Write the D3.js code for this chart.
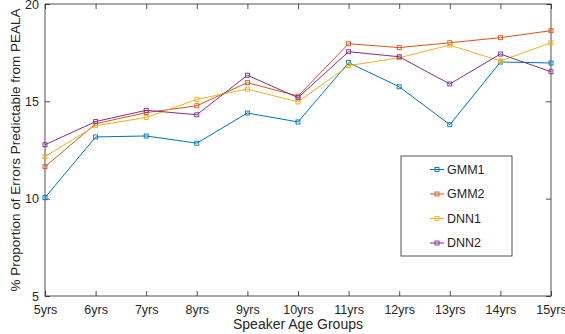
<!DOCTYPE html>
<html><head><meta charset="utf-8">
<script src="https://cdn.jsdelivr.net/npm/d3@7"></script>
<style>body{margin:0;background:#fff}svg{display:block}text{font-family:"Liberation Sans",Arial,sans-serif;fill:#262626}</style>
</head><body><svg id="c" width="565" height="334"></svg>
<script>
const categories = ["5yrs","6yrs","7yrs","8yrs","9yrs","10yrs","11yrs","12yrs","13yrs","14yrs","15yrs"];
const gmm1 = [10.05,13.17,13.22,12.85,14.4,13.94,16.99,15.75,13.8,17.02,16.97];
const gmm2 = [11.64,13.85,14.42,14.77,15.96,15.27,17.96,17.76,18.01,18.27,18.63];
const dnn1 = [12.16,13.75,14.17,15.1,15.63,14.97,16.83,17.24,17.89,17.07,18.01];
const dnn2 = [12.77,13.96,14.54,14.31,16.34,15.19,17.55,17.29,15.89,17.43,16.52];
const seriesNames = ["GMM1","GMM2","DNN1","DNN2"];
const colors = ["#0072BD","#D95319","#EDB120","#7E2F8E"];
const yTicks = [5,10,15,20];

const svg = d3.select("#c");
const L=45,R=551,T=4,B=296;
const x = d3.scalePoint().domain(categories).range([L,R]);
const y = d3.scaleLinear().domain([5,20]).range([B,T]);
const axc="#262626";

// box
svg.append("rect").attr("x",L).attr("y",T).attr("width",R-L).attr("height",B-T)
  .attr("fill","none").attr("stroke",axc).attr("stroke-width",0.8);

const xa = svg.append("g").attr("transform",`translate(0,${B})`)
  .call(d3.axisBottom(x).tickSize(-5).tickPadding(9));
const xt = svg.append("g").attr("transform",`translate(0,${T})`)
  .call(d3.axisTop(x).tickSize(-5).tickFormat(""));
const ya = svg.append("g").attr("transform",`translate(${L},0)`)
  .call(d3.axisLeft(y).tickValues(yTicks).tickSize(-5).tickPadding(6));
const yr = svg.append("g").attr("transform",`translate(${R},0)`)
  .call(d3.axisRight(y).tickValues(yTicks).tickSize(-5).tickFormat(""));
[xa,xt,ya,yr].forEach(g=>{
  g.select(".domain").remove();
  g.selectAll(".tick line").attr("stroke",axc).attr("stroke-width",0.8);
  g.selectAll("text").attr("font-size","12.5px").attr("fill",axc).style("font-family","'Liberation Sans',Arial,sans-serif");
});

const data=[gmm1,gmm2,dnn1,dnn2];
const line=d3.line().x((d,i)=>x(categories[i])).y(d=>y(d));
data.forEach((s,k)=>{
  svg.append("path").attr("d",line(s)).attr("fill","none").attr("stroke",colors[k]).attr("stroke-width",1);
  svg.append("g").selectAll("rect").data(s).join("rect")
    .attr("x",(d,i)=>x(categories[i])-2).attr("y",d=>y(d)-2).attr("width",4).attr("height",4)
    .attr("fill","none").attr("stroke",colors[k]).attr("stroke-width",0.9);
});

// labels
svg.append("text").attr("x",(L+R)/2).attr("y",329).attr("text-anchor","middle")
  .attr("font-size","14px").text("Speaker Age Groups");
svg.append("text").attr("transform",`translate(20,${(T+B)/2}) rotate(-90)`).attr("text-anchor","middle")
  .attr("font-size","13.5px").text("% Proportion of Errors Predictable from PEALA");

// legend
const lg=svg.append("g");
lg.append("rect").attr("x",401).attr("y",156).attr("width",111).attr("height",100)
  .attr("fill","#fff").attr("stroke",axc).attr("stroke-width",0.8);
const ly=[169.5,194,218.5,243];
seriesNames.forEach((n,k)=>{
  lg.append("line").attr("x1",430).attr("x2",444).attr("y1",ly[k]).attr("y2",ly[k]).attr("stroke",colors[k]).attr("stroke-width",1);
  lg.append("rect").attr("x",435).attr("y",ly[k]-2).attr("width",4).attr("height",4).attr("fill","none").attr("stroke",colors[k]).attr("stroke-width",0.9);
  lg.append("text").attr("x",447).attr("y",ly[k]).attr("dy","0.35em").attr("font-size","12.5px").text(n);
});
</script></body></html>
